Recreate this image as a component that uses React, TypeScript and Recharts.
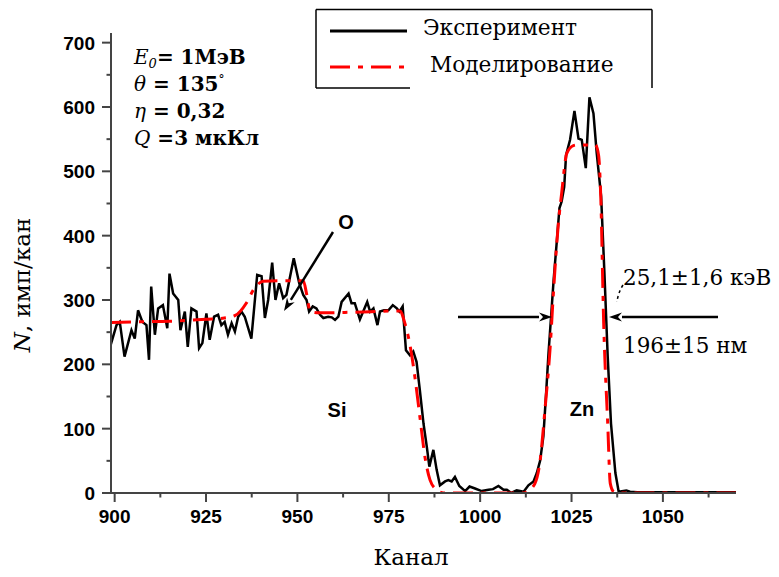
import { LineChart, Line, XAxis, YAxis } from 'recharts'

const expChannel = [
  898.9, 900.5, 901.4, 902.7, 904.6, 905.5, 906.4, 907.6, 908.7, 909.4, 910.0, 911.0, 911.9, 913.2, 914.4,
  915.0, 916.0, 917.4, 918.0, 919.2, 920.0, 921.0, 922.4, 923.1, 924.0, 925.1, 926.0, 927.2, 928.3, 929.2,
  930.1, 931.0, 932.0, 932.9, 933.8, 934.7, 935.6, 937.4, 939.0, 940.2, 941.1, 942.0, 943.1, 944.0, 945.0,
  946.1, 947.0, 949.0, 950.5, 951.6, 952.5, 953.2, 954.2, 955.2, 956.2, 957.1, 958.4, 959.4, 960.3, 961.2,
  962.1, 964.0, 964.8, 965.7, 967.1, 968.0, 969.1, 969.9, 970.8, 971.9, 972.6, 973.7, 974.9, 976.1, 977.2,
  977.9, 978.8, 979.7, 980.8, 981.7, 982.6, 983.5, 984.5, 985.4, 986.1, 987.2, 988.1, 989.0, 990.4, 991.3,
  992.2, 993.1, 994.3, 995.9, 997.1, 998.6, 1000.4, 1002.3, 1003.5, 1005.0, 1006.4, 1007.3, 1008.5, 1010.0, 1011.9,
  1013.2, 1014.6, 1015.5, 1016.4, 1017.3, 1018.1, 1018.7, 1019.4, 1020.1, 1021.0, 1021.7, 1022.3, 1023.0, 1023.5, 1024.6,
  1025.8, 1026.9, 1027.8, 1028.9, 1029.9, 1031.0, 1031.9, 1033.1, 1034.0, 1034.9, 1035.8, 1037.0, 1037.9, 1040.0, 1041.0,
  1043.0, 1070.0,
]
const expCounts = [
  230, 261, 266, 212, 253, 240, 284, 266, 261, 207, 321, 246, 287, 292, 256,
  341, 310, 300, 253, 282, 227, 287, 282, 225, 233, 279, 238, 274, 277, 261,
  266, 246, 264, 251, 274, 282, 274, 240, 339, 337, 272, 300, 358, 300, 326,
  303, 308, 365, 326, 308, 300, 282, 290, 287, 277, 272, 274, 273, 269, 274,
  297, 310, 295, 295, 270, 282, 297, 282, 287, 261, 282, 284, 284, 292, 287,
  282, 290, 222, 214, 220, 204, 160, 108, 72, 41, 67, 36, 12, 18, 20,
  18, 25, 11, 3, 10, 7, 3, 5, 6, 11, 5, 5, 0, 4, 2,
  12, 18, 31, 50, 88, 160, 217, 274, 331, 393, 443, 453, 476, 525, 549,
  594, 551, 549, 505, 615, 590, 528, 461, 342, 212, 108, 31, 2, 4, 2,
  1, 1,
]

// simulation
const simChannel = [
  899, 905, 915, 925, 930, 933, 936, 938, 940.6, 945, 951.6, 952.5, 953.5, 956, 965,
  978, 979.4, 980.8, 982.2, 983.5, 984.9, 986.3, 988.1, 990, 1012, 1013, 1015, 1016.4, 1017.8, 1019.1,
  1020.1, 1021.4, 1022.3, 1023.7, 1025.5, 1026.5, 1031.5, 1032.4, 1033, 1033.8, 1034.9, 1035.6, 1036.5, 1037.5, 1070,
]
const simCounts = [
  265, 266, 267, 270, 272, 276, 295, 316, 329, 330, 330, 310, 282, 280, 281,
  283, 264, 230, 178, 119, 56, 20, 5, 0, 0, 3, 15, 50, 134, 222,
  316, 419, 466, 528, 540, 541, 541, 525, 460, 264, 108, 15, 2, 0, 0,
]

const xTicks = [900, 912.5, 925, 937.5, 950, 962.5, 975, 987.5, 1000, 1012.5, 1025, 1037.5, 1050, 1062.5]
const yTicks = [0, 50, 100, 150, 200, 250, 300, 350, 400, 450, 500, 550, 600, 650, 700]

const expData = expChannel.map((c, i) => ({ c, v: expCounts[i] }))
const simData = simChannel.map((c, i) => ({ c, v: simCounts[i] }))

const AXIS = '#444'
const SANS = '"Liberation Sans", Arial, sans-serif'
const SERIF = '"DejaVu Serif", serif'

const XTick = ({ x, y, payload }: any) => {
  const major = payload.value % 25 === 0
  return (
    <g>
      <line x1={x} x2={x} y1={y} y2={y + (major ? 9 : 4.5)} stroke={AXIS} strokeWidth={2} />
      {major && (
        <text x={x} y={y + 30} textAnchor="middle" fontFamily={SANS} fontWeight="bold" fontSize={19} fill="#000">
          {payload.value}
        </text>
      )}
    </g>
  )
}

const YTick = ({ x, y, payload }: any) => {
  const major = payload.value % 100 === 0
  return (
    <g>
      <line x1={x - (major ? 9 : 4.5)} x2={x} y1={y} y2={y} stroke={AXIS} strokeWidth={2} />
      {major && (
        <text x={x - 16} y={y + 7} textAnchor="end" fontFamily={SANS} fontWeight="bold" fontSize={19} fill="#000">
          {payload.value}
        </text>
      )}
    </g>
  )
}

const Arrow = ({ x1, y1, x2, y2 }: { x1: number; y1: number; x2: number; y2: number }) => {
  const a = Math.atan2(y2 - y1, x2 - x1)
  const L = 13
  const w = 4.5
  const bx = x2 - L * Math.cos(a)
  const by = y2 - L * Math.sin(a)
  const px = -Math.sin(a) * w
  const py = Math.cos(a) * w
  return (
    <g>
      <line x1={x1} y1={y1} x2={bx} y2={by} stroke="#000" strokeWidth={2.5} />
      <path d={`M${x2},${y2} L${bx + px},${by + py} L${bx + 4 * Math.cos(a)},${by + 4 * Math.sin(a)} L${bx - px},${by - py} Z`} fill="#000" />
    </g>
  )
}

export default function App() {
  return (
    <div style={{ position: 'relative', width: 763, height: 561 }}>
      <LineChart width={763} height={561} data={expData} margin={{ top: 25, right: 35, left: 0, bottom: 0 }}>
        <XAxis
          dataKey="c"
          type="number"
          domain={[899, 1070]}
          ticks={xTicks}
          interval={0}
          allowDataOverflow
          height={76}
          tickSize={0}
          tickMargin={0}
          tick={<XTick />}
          axisLine={{ stroke: AXIS, strokeWidth: 2 }}
        />
        <YAxis
          type="number"
          domain={[0, 715]}
          ticks={yTicks}
          interval={0}
          allowDataOverflow
          width={103}
          tickSize={0}
          tickMargin={0}
          tick={<YTick />}
          axisLine={{ stroke: AXIS, strokeWidth: 2 }}
        />
        <Line data={expData} dataKey="v" type="linear" stroke="#000" strokeWidth={2.5} dot={false} isAnimationActive={false} />
        <Line
          data={simData}
          dataKey="v"
          type="monotone"
          stroke="#ff0000"
          strokeWidth={3}
          strokeDasharray="20 8 5 8"
          dot={false}
          isAnimationActive={false}
        />
      </LineChart>
      <svg width={763} height={561} style={{ position: 'absolute', left: 0, top: 0, pointerEvents: 'none' }}>
        {/* legend */}
        <g stroke="#000" strokeWidth={1.5}>
          <line x1={308} y1={1.5} x2={644} y2={1.5} />
          <line x1={308} y1={1.5} x2={308} y2={80} />
          <line x1={644} y1={1.5} x2={644} y2={80} />
          <line x1={308} y1={80} x2={402} y2={80} />
        </g>
        <line x1={322} y1={23} x2={399} y2={23} stroke="#000" strokeWidth={3} />
        <line x1={322} y1={59} x2={399} y2={59} stroke="#ff0000" strokeWidth={3} strokeDasharray="20 8 5 8" />
        <text x={415} y={27} fontFamily={SERIF} fontSize={21.7} fill="#000">Эксперимент</text>
        <text x={422} y={64} fontFamily={SERIF} fontSize={21.7} fill="#000">Моделирование</text>

        {/* parameters */}
        <g fontFamily={SERIF} fontSize={20} fill="#000">
          <text x={126} y={56}>
            <tspan fontStyle="italic">E</tspan>
            <tspan fontStyle="italic" fontSize={13} dy={4}>0</tspan>
            <tspan dy={-4} fontWeight="bold">= 1МэВ</tspan>
          </text>
          <text x={126} y={83}>
            <tspan fontStyle="italic">θ</tspan>
            <tspan fontWeight="bold"> = 135</tspan>
            <tspan fontSize={12} dy={-7}>°</tspan>
          </text>
          <text x={126} y={110}>
            <tspan fontStyle="italic">η</tspan>
            <tspan fontWeight="bold"> = 0,32</tspan>
          </text>
          <text x={126} y={137}>
            <tspan fontStyle="italic">Q</tspan>
            <tspan fontWeight="bold"> =3 мкКл</tspan>
          </text>
        </g>

        {/* element labels */}
        <g fontFamily={SANS} fontWeight="bold" fontSize={20} fill="#000" textAnchor="middle">
          <text x={338} y={221}>O</text>
          <text x={329} y={409}>Si</text>
          <text x={574} y={408}>Zn</text>
        </g>
        <Arrow x1={325} y1={224} x2={276} y2={303} />
        <Arrow x1={450} y1={309} x2={544} y2={309} />
        <Arrow x1={710} y1={309} x2={601} y2={309} />
        <path d="M615,277 Q610,285 609,294" fill="none" stroke="#000" strokeWidth={1.5} strokeDasharray="3 3" />
        <g fontFamily={SERIF} fontSize={21.5} fill="#000">
          <text x={615} y={277}>25,1±1,6 кэВ</text>
          <text x={615} y={345}>196±15 нм</text>
        </g>

        {/* axis titles */}
        <text x={403} y={557} textAnchor="middle" fontFamily={SERIF} fontSize={23} fill="#000">Канал</text>
        <text
          transform="translate(22,277) rotate(-90)"
          textAnchor="middle"
          fontFamily={SERIF}
          fontSize={23}
          fill="#000"
        >
          <tspan fontStyle="italic">N</tspan>
          <tspan>,   имп/кан</tspan>
        </text>
      </svg>
    </div>
  )
}
